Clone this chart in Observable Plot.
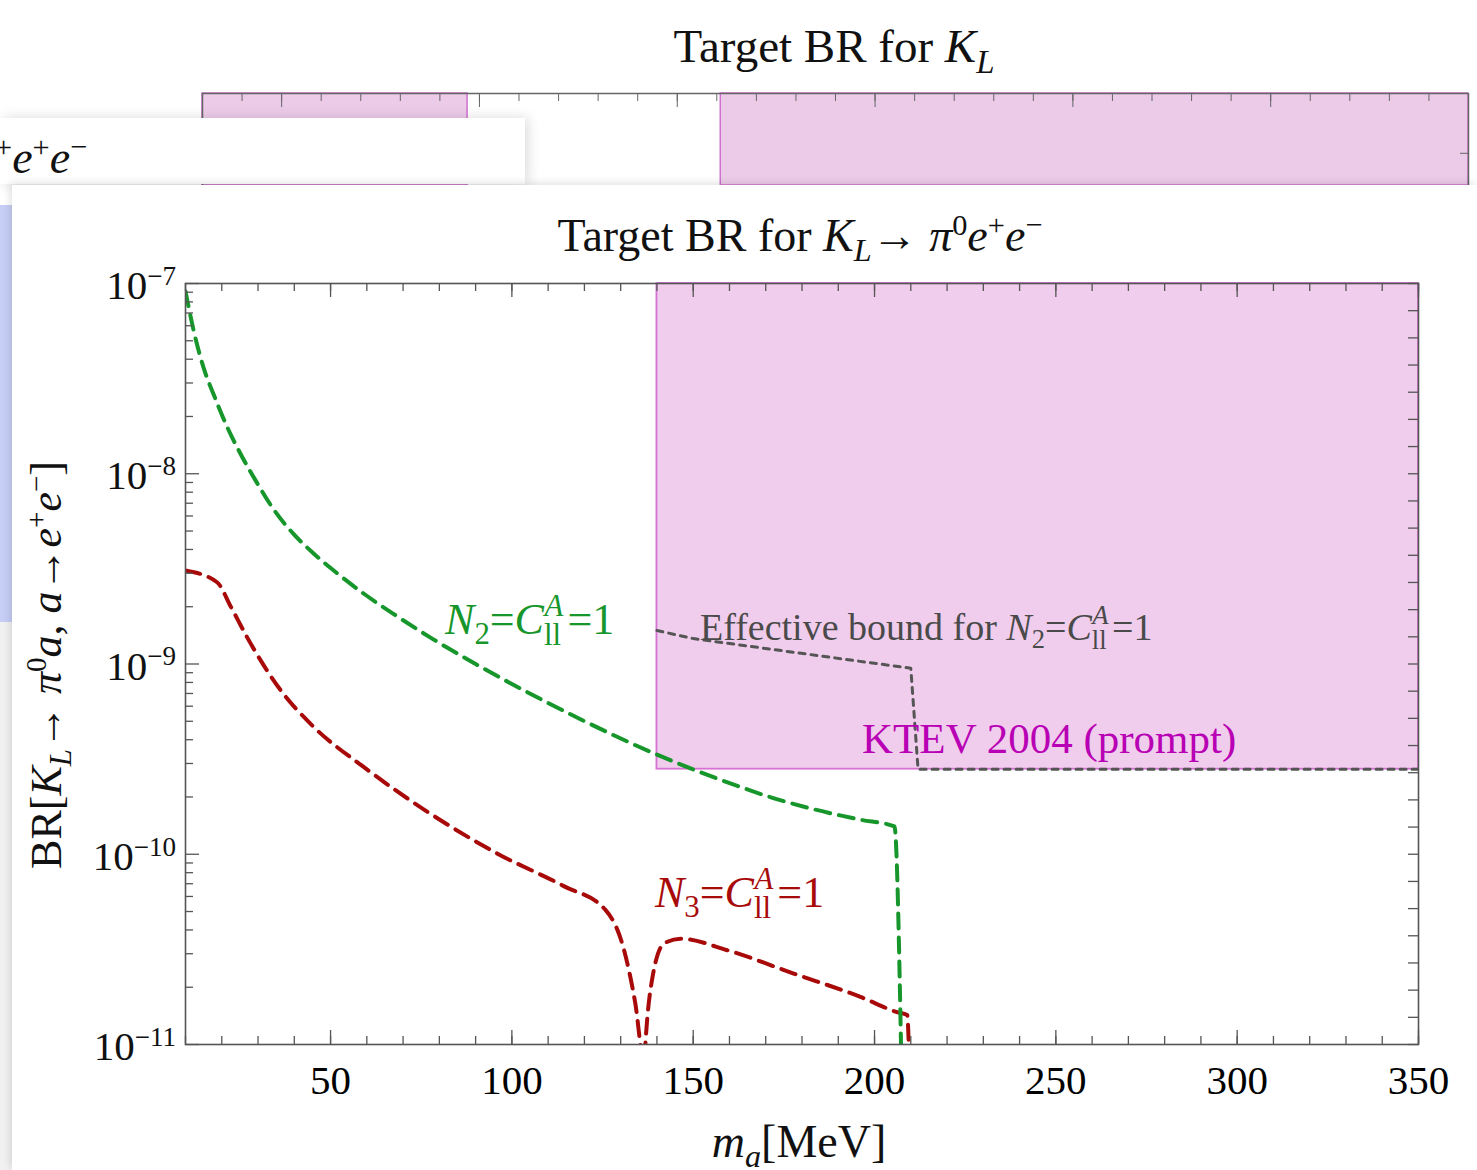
<!DOCTYPE html>
<html><head><meta charset="utf-8">
<script src="https://cdn.jsdelivr.net/npm/d3@7"></script>
<script src="https://cdn.jsdelivr.net/npm/@observablehq/plot@0.6"></script>
<style>
body{margin:0;background:#fff;}
#page{position:relative;width:1477px;height:1170px;overflow:hidden;background:#fff;font-family:"Liberation Serif","Times New Roman",serif;}
.abs{position:absolute;white-space:nowrap;line-height:1;}
.lo{font-size:0.7em;position:relative;top:0.32em;}
.hi{font-size:0.66em;position:relative;top:-0.52em;}
.ss{position:relative;display:inline-block;font-size:0.7em;min-width:0.76em;}
.ss .sp{position:absolute;left:0.02em;top:-0.58em;font-style:italic;}
.ss .sb{position:relative;top:0.36em;}
#card{position:absolute;left:12px;top:185px;width:1465px;height:985px;background:#fff;box-shadow:-2px -2px 8px rgba(0,0,0,0.12);}
#main{position:absolute;left:0;top:185px;}
#ghost{position:absolute;left:0;top:0;}
</style></head>
<body><div id="page"></div>
<script>
// ---------- data ----------
const xDomain = [10, 350];
const yDomain = [1e-11, 1e-7];

// N2 = C^A_ll = 1 (green, dashed)
const n2Mass = [10, 12.3, 15, 17.8, 21.5, 25.2, 29.8, 34.3, 39.9, 45.4, 51.8, 59.2, 68, 78, 90, 100, 110, 121, 132, 150, 161, 173, 184, 196, 205.5, 207.4];
const n2BR   = [9.1e-8, 5.6e-8, 3.6e-8, 2.6e-8, 1.76e-8, 1.27e-8, 8.9e-9, 6.5e-9, 4.8e-9, 3.8e-9, 3.0e-9, 2.34e-9, 1.80e-9, 1.36e-9, 1.0e-9, 7.85e-10, 6.24e-10, 4.9e-10, 3.9e-10, 2.79e-10, 2.33e-10, 1.95e-10, 1.71e-10, 1.52e-10, 1.40e-10, 8e-12];

// N3 = C^A_ll = 1 (red, dashed)
const n3Mass = [10, 18.7, 22.5, 27, 36.2, 45.4, 59.2, 77.6, 95.9, 114.3, 125.8, 131, 134, 136.5, 136.8, 138.2, 141.9, 146.5, 159.4, 177.7, 196.1, 206.2, 209, 209.6];
const n3BR   = [3.1e-9, 2.69e-9, 2.0e-9, 1.38e-9, 7.3e-10, 4.66e-10, 2.87e-10, 1.63e-10, 1.01e-10, 6.8e-11, 5.1e-11, 3.1e-11, 1.66e-11, 8e-12, 1.0e-11, 1.93e-11, 3.39e-11, 3.6e-11, 3.13e-11, 2.36e-11, 1.78e-11, 1.48e-11, 1.43e-11, 8e-12];

// Effective bound for N2 = C^A_ll = 1 (grey, dotted)
const effMass = [140, 150, 210, 212, 350];
const effBR   = [1.5e-9, 1.36e-9, 9.5e-10, 2.8e-10, 2.8e-10];

// KTEV 2004 (prompt) excluded region
const ktevMass = [140, 350];
const ktevBR   = [2.8e-10, 1e-7];

// axis ticks
const xTickLabels = [50, 100, 150, 200, 250, 300, 350];
const xMinorTicks = d3.range(10, 351, 10);
const yTickLabels = [1e-11, 1e-10, 1e-9, 1e-8, 1e-7];
const yMinorTicks = [-11, -10, -9, -8].flatMap(k => [2,3,4,5,6,7,8,9].map(m => m * 10 ** k));
const yRightTicks = d3.range(0, 29).map(k => 10 ** (-11 + k / 7));

// ghost (background slide) strip
const ghostDomain = [30, 350];
const ghostRegionStart = [30, 161];
const ghostRegionEnd = [97, 350];
const ghostMajor = [50, 100, 150, 200, 250, 300, 350];
const ghostMinor = d3.range(30, 351, 10);

// ---------- build ----------
const page = document.getElementById("page");
const green = "#17962b", red = "#a80a0a", magenta = "#b800b4", grey = "#555";
const FW = 1233, FH = 761; // frame size
const tbl = (ms, bs) => ms.map((m, i) => ({m, br: bs[i]}));

// ghost plot (top, partially hidden)
const gW = 1477 - 202 - 9, gH = 92;
const ghost = Plot.plot({
  width: 1477, height: 185, marginLeft: 202, marginRight: 9, marginTop: 93, marginBottom: 0,
  x: {domain: ghostDomain, axis: null}, y: {domain: [0, 1], axis: null},
  style: {background: "transparent"},
  marks: [
    Plot.rect(ghostRegionStart.map((a, i) => ({a, b: ghostRegionEnd[i]})), {x1: "a", x2: "b", y1: 0, y2: 1, fill: "#eccbe9", stroke: "#d070d0", strokeWidth: 1.5}),
    Plot.ruleY([1], {stroke: "#666", strokeWidth: 1.5}),
    Plot.ruleX([350], {stroke: "#666", strokeWidth: 1.5}),
    Plot.ruleX([30], {stroke: "#666", strokeWidth: 1.5}),
    Plot.tickX(ghostMinor, {x: d => d, insetBottom: gH - 8, stroke: "#666"}),
    Plot.tickX(ghostMajor, {x: d => d, insetBottom: gH - 14, stroke: "#666"}),
    Plot.tickY([0.35], {y: d => d, insetLeft: gW - 8, stroke: "#666"})
  ]
});
ghost.id = "ghost";
page.appendChild(ghost);

function addDiv(html, style) {
  const d = document.createElement("div");
  d.className = "abs";
  d.innerHTML = html;
  Object.assign(d.style, style);
  page.appendChild(d);
  return d;
}
// ghost decorations
addDiv('Target BR for <i>K</i><span class="lo"><i>L</i></span>', {left: "834px", top: "46px", transform: "translate(-50%,-50%)", fontSize: "47px", color: "#111"});
const band = document.createElement("div");
Object.assign(band.style, {position: "absolute", left: "0px", top: "118px", width: "525px", height: "66px", background: "#fff", boxShadow: "3px 0 12px rgba(0,0,0,0.14)"});
page.appendChild(band);
addDiv('<span class="hi">+</span><i>e</i><span class="hi">+</span><i>e</i><span class="hi">−</span>', {left: "-5px", top: "158px", transform: "translate(0,-50%)", fontSize: "46px", color: "#111"});
const lstrip = document.createElement("div");
Object.assign(lstrip.style, {position: "absolute", left: "0px", top: "205px", width: "12px", height: "417px", background: "#c6cef6"});
page.appendChild(lstrip);
const lstrip2 = document.createElement("div");
Object.assign(lstrip2.style, {position: "absolute", left: "0px", top: "622px", width: "12px", height: "548px", background: "#f1f1f1"});
page.appendChild(lstrip2);

const card = document.createElement("div");
card.id = "card";
page.appendChild(card);

const chart = Plot.plot({
  width: 1477, height: 985,
  marginLeft: 185, marginRight: 59, marginTop: 98, marginBottom: 126,
  x: {domain: xDomain},
  y: {type: "log", domain: yDomain, axis: null},
  style: {background: "transparent", fontFamily: "Liberation Serif, serif", fontSize: "41px", color: "#000"},
  marks: [
    Plot.rect([{x1: ktevMass[0], x2: ktevMass[1], y1: ktevBR[0], y2: ktevBR[1]}], {x1: "x1", x2: "x2", y1: "y1", y2: "y2", fill: "#f0cdec", stroke: "#d772d4", strokeWidth: 1.8}),
    Plot.line(tbl(n3Mass, n3BR), {x: "m", y: "br", stroke: red, strokeWidth: 4, strokeDasharray: "15,9", curve: "monotone-x", clip: true}),
    Plot.line(tbl(n2Mass, n2BR), {x: "m", y: "br", stroke: green, strokeWidth: 4, strokeDasharray: "15,9", curve: "monotone-x", clip: true}),
    Plot.line(tbl(effMass, effBR), {x: "m", y: "br", stroke: grey, strokeWidth: 3, strokeDasharray: "6,6", clip: true}),
    Plot.frame({stroke: "#555", strokeWidth: 1.6}),
    Plot.tickY(yTickLabels, {y: d => d, insetRight: FW - 14, stroke: "#555", strokeWidth: 1.3}),
    Plot.tickY(yMinorTicks, {y: d => d, insetRight: FW - 8, stroke: "#555", strokeWidth: 1.3}),
    Plot.tickY(yRightTicks, {y: d => d, insetLeft: FW - 10, stroke: "#555", strokeWidth: 1.3}),
    Plot.tickX(xMinorTicks, {x: d => d, insetTop: FH - 8, stroke: "#555", strokeWidth: 1.3}),
    Plot.tickX(xTickLabels, {x: d => d, insetTop: FH - 14, stroke: "#555", strokeWidth: 1.3}),
    Plot.tickX(xMinorTicks, {x: d => d, insetBottom: FH - 8, stroke: "#555", strokeWidth: 1.3}),
    Plot.tickX(xTickLabels, {x: d => d, insetBottom: FH - 14, stroke: "#555", strokeWidth: 1.3}),
    Plot.axisX({ticks: xTickLabels, tickSize: 0, tickPadding: 20, label: null, tickFormat: d => String(d)})
  ]
});
chart.id = "main";
page.appendChild(chart);

const sx = v => chart.scale("x").apply(v);
const sy = v => 185 + chart.scale("y").apply(v);

// y tick labels (10^k) positioned through the y scale
for (const v of yTickLabels) {
  const k = Math.round(Math.log10(v));
  addDiv('10<span class="hi">' + (k < 0 ? "−" + (-k) : k) + '</span>',
    {right: (1477 - 176) + "px", top: (sy(v) + 2) + "px", transform: "translate(0,-50%)", fontSize: "41px", color: "#111"});
}

const sub = '<span class="ss"><span class="sp">A</span><span class="sb">ll</span></span>';
// titles and axis labels
addDiv('Target BR for <i>K</i><span class="lo"><i>L</i></span>→ <i>π</i><span class="hi">0</span><i>e</i><span class="hi">+</span><i>e</i><span class="hi">−</span>',
  {left: "800px", top: "236px", transform: "translate(-50%,-50%)", fontSize: "46px", color: "#111"});
addDiv('<i>m</i><span class="lo"><i>a</i></span>[MeV]', {left: "799px", top: "1142px", transform: "translate(-50%,-50%)", fontSize: "46px", color: "#111"});
addDiv('BR[<i>K</i><span class="lo"><i>L</i></span>→ <i>π</i><span class="hi">0</span><i>a</i>, <i>a</i>→<i>e</i><span class="hi">+</span><i>e</i><span class="hi">−</span>]',
  {left: "47px", top: "665px", transform: "translate(-50%,-50%) rotate(-90deg)", fontSize: "44px", color: "#111"});

// in-plot annotations positioned through the chart scales
addDiv('<i>N</i><span class="lo">2</span>=<i>C</i>' + sub + '=1', {left: sx(81.7) + "px", top: sy(1.69e-9) + "px", transform: "translate(0,-50%)", fontSize: "44px", color: green});
addDiv('<i>N</i><span class="lo">3</span>=<i>C</i>' + sub + '=1', {left: sx(139.6) + "px", top: sy(6.2e-11) + "px", transform: "translate(0,-50%)", fontSize: "44px", color: red});
addDiv('Effective bound for <i>N</i><span class="lo">2</span>=<i>C</i>' + sub + '=1', {left: sx(152) + "px", top: sy(1.56e-9) + "px", transform: "translate(0,-50%)", fontSize: "38px", color: "#4a4a4a"});
addDiv('KTEV 2004 (prompt)', {left: sx(196.7) + "px", top: sy(4.06e-10) + "px", transform: "translate(0,-50%)", fontSize: "43px", color: magenta});
</script>
</body></html>
